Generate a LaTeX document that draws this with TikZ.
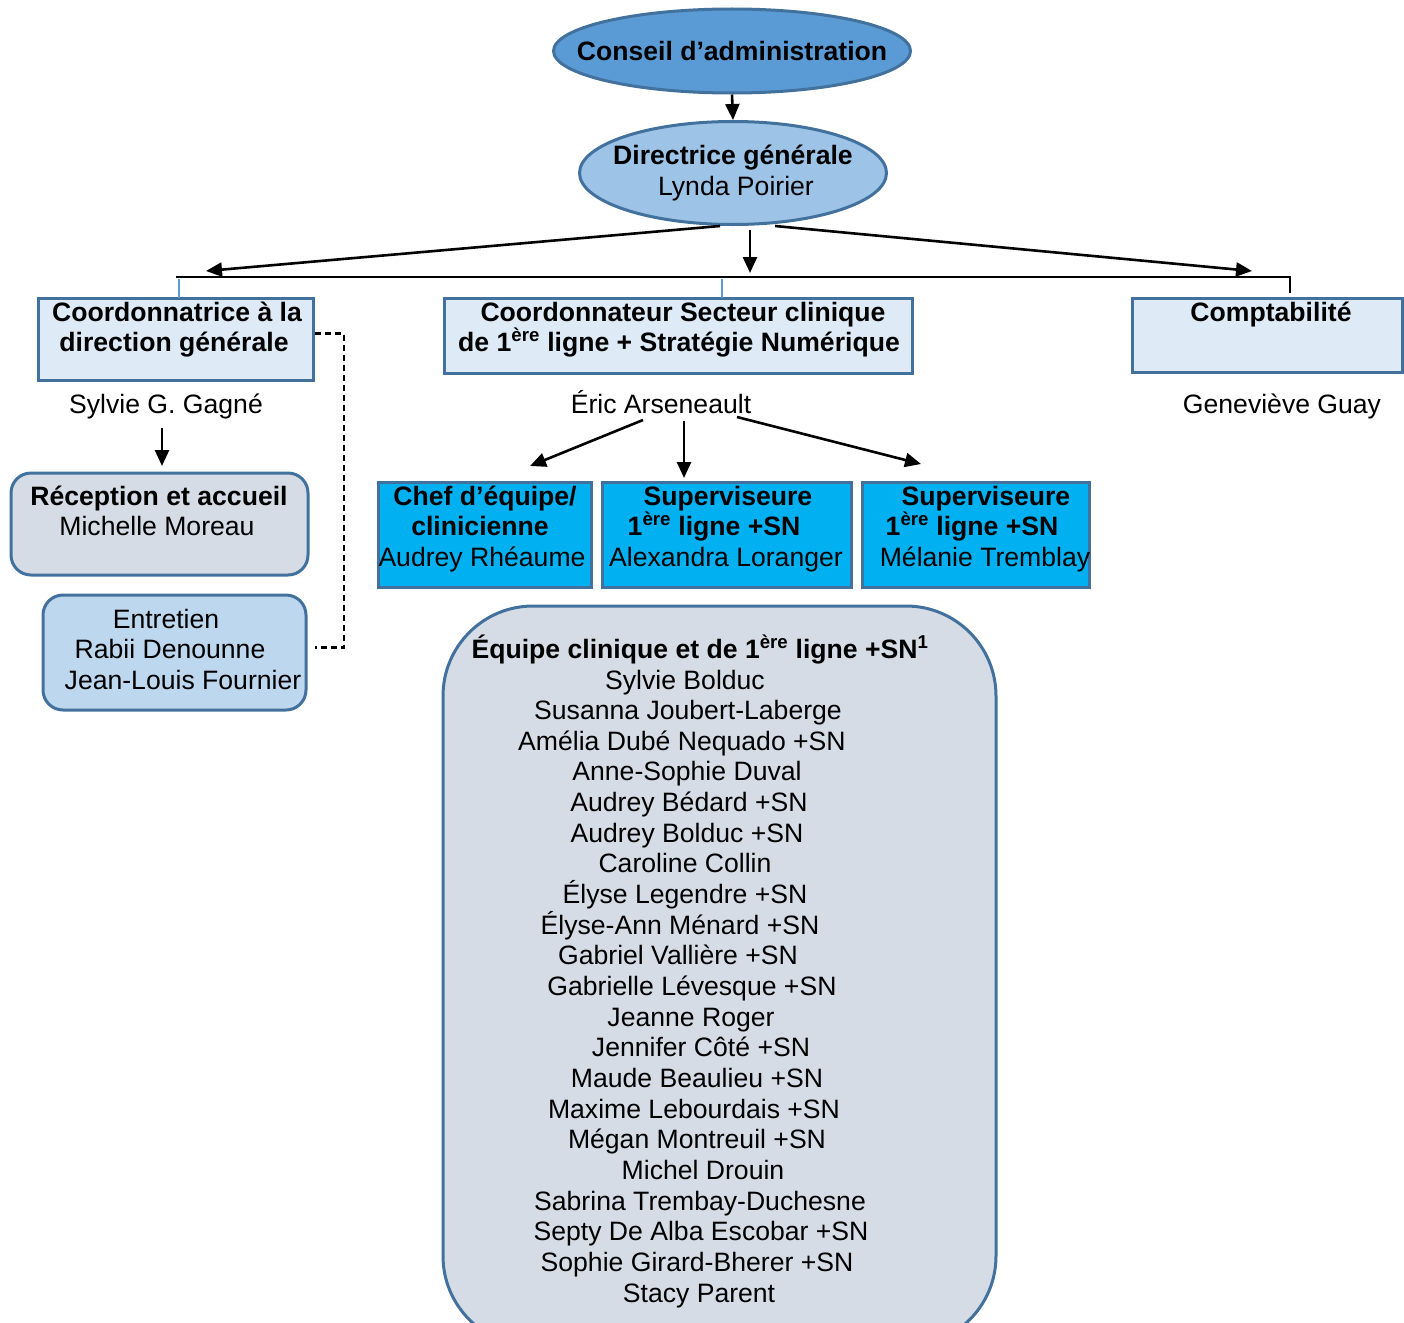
\documentclass[tikz,border=0pt]{standalone}
\usepackage{fontspec}
\setmainfont{Liberation Sans}
\usetikzlibrary{shapes.geometric,arrows.meta}
\definecolor{bord}{HTML}{41719C}
\definecolor{cfill}{HTML}{5B9BD5}
\definecolor{dfill}{HTML}{9DC3E6}
\definecolor{lfill}{HTML}{DEEBF7}
\definecolor{gfill}{HTML}{D6DCE5}
\definecolor{efill}{HTML}{BDD7EE}
\definecolor{cyanf}{HTML}{00B0F0}
\definecolor{tick}{HTML}{5B9BD5}
\begin{document}
\begin{tikzpicture}[x=1pt,y=-1pt,
  box/.style={draw=bord, line width=3pt, inner sep=0pt, outer sep=0pt, anchor=north west},
  ell/.style={ellipse, draw=bord, line width=3pt, inner sep=0pt},
  txt/.style={font=\fontsize{26.6pt}{30.65pt}\selectfont, inner sep=0pt, anchor=base},
  btxt/.style={txt, font=\fontsize{26.6pt}{30.65pt}\selectfont\bfseries},
  arr/.style={line width=2.6pt, -{Triangle[length=16pt,width=14pt]}},
  dsh/.style={line width=2.2pt, dash pattern=on 6pt off 4pt}]
\useasboundingbox (0,0) rectangle (1404,1322);

% ellipses
\node[ell, fill=cfill, minimum width=357pt, minimum height=84pt] (conseil) at (732,51) {};
\node[btxt] (conseilt) at (732,60) {Conseil d’administration};
\node[ell, fill=dfill, minimum width=307pt, minimum height=103pt] (dir) at (733,173) {};
\node[btxt] (dirt1) at (733,164) {Directrice générale};
\node[txt] (dirt2) at (736,195) {Lynda Poirier};
\draw[arr] (conseil.south) -- (dir.north);

% top level boxes
\node[box, fill=lfill, minimum width=275pt, minimum height=82pt] (cdg) at (38,298) {};
\node[btxt] (cdgt1) at (177,321) {Coordonnatrice à la};
\node[btxt] (cdgt2) at (174,351) {direction générale};
\node[box, fill=lfill, minimum width=468pt, minimum height=75pt] (csc) at (444,298) {};
\node[btxt] (csct1) at (683,321) {Coordonnateur Secteur clinique};
\node[btxt] (csct2) at (679,351) {de 1\textsuperscript{ère} ligne + Stratégie Numérique};
\node[box, fill=lfill, minimum width=270pt, minimum height=74pt] (cpt) at (1132,298) {};
\node[btxt] (cptt) at (1271,321) {Comptabilité};

% bar and connectors from directrice
\coordinate (barL) at (176,277);
\coordinate (barR) at (1290,277);
\coordinate (barRe) at (1290,293);
\coordinate (s1) at (720,226);
\coordinate (s2) at (750,230);
\coordinate (s3) at (775,226);
\coordinate (e1) at (206,271);
\coordinate (e2) at (750,273);
\coordinate (e3) at (1252,271);
\draw[line width=2.6pt] (barL) -- (barR) -- (barRe);
\draw[arr] (s1) -- (e1);
\draw[arr] (s2) -- (e2);
\draw[arr] (s3) -- (e3);
\coordinate (t1a) at (179,279);
\coordinate (t2a) at (722,279);
\draw[tick, line width=1.5pt] (t1a) -- (t1a |- cdg.north);
\draw[tick, line width=1.5pt] (t2a) -- (t2a |- csc.north);

% names under boxes
\node[txt] (sylvie) at (166,413) {Sylvie G. Gagné};
\node[txt] (eric) at (661,413) {Éric Arseneault};
\node[txt] (gen) at (1282,413) {Geneviève Guay};

% left column
\node[box, fill=gfill, rounded corners=20pt, minimum width=297pt, minimum height=102pt] (rec) at (11,473) {};
\node[btxt] (rect1) at (159,505) {Réception et accueil};
\node[txt] (rect2) at (157,535) {Michelle Moreau};
\node[box, fill=efill, rounded corners=20pt, minimum width=263pt, minimum height=115pt] (ent) at (43,595) {};
\node[txt] (entt1) at (166,628) {Entretien};
\node[txt] (entt2) at (170,658) {Rabii Denounne};
\node[txt] (entt3) at (183,689) {Jean-Louis Fournier};
\coordinate (sa) at (162,428);
\coordinate (sb) at (162,466);
\draw[arr] (sa) -- (sb);
\draw[dsh] ([xshift=2pt,yshift=5.5pt]cdg.east) -| ([xshift=38pt,yshift=5pt]ent.east) -- ([xshift=9pt,yshift=5pt]ent.east);

% cyan boxes
\node[box, fill=cyanf, minimum width=213pt, minimum height=105pt] (b1) at (378,482) {};
\node[box, fill=cyanf, minimum width=249pt, minimum height=105pt] (b2) at (602,482) {};
\node[box, fill=cyanf, minimum width=227pt, minimum height=105pt] (b3) at (862,482) {};
\node[btxt] (b1t1) at (485,505) {Chef d’équipe/};
\node[btxt] (b1t2) at (480,535) {clinicienne};
\node[txt] (b1t3) at (482,566) {Audrey Rhéaume};
\node[btxt] (b2t1) at (728,505) {Superviseure};
\node[btxt] (b2t2) at (714,535) {1\textsuperscript{ère} ligne +SN};
\node[txt] (b2t3) at (726,566) {Alexandra Loranger};
\node[btxt] (b3t1) at (986,505) {Superviseure};
\node[btxt] (b3t2) at (972,535) {1\textsuperscript{ère} ligne +SN};
\node[txt] (b3t3) at (985,566) {Mélanie Tremblay};
\coordinate (ea) at (643,420);
\coordinate (eb) at (684,421);
\coordinate (ec) at (737,417);
\coordinate (fa) at (530,466);
\coordinate (fb) at (684,478);
\coordinate (fc) at (921,464);
\draw[arr] (ea) -- (fa);
\draw[arr] (eb) -- (fb);
\draw[arr] (ec) -- (fc);

% team box
\node[box, fill=gfill, rounded corners=90pt, minimum width=553pt, minimum height=740pt] (team) at (443,606) {};
\node[btxt] (teamt) at (700,658) {Équipe clinique et de 1\textsuperscript{ère} ligne +SN\textsuperscript{1}};
\foreach \i/\xx/\nm in {0/685/Sylvie Bolduc, 1/688/Susanna Joubert-Laberge, 2/682/Amélia Dubé Nequado +SN,
  3/687/Anne-Sophie Duval, 4/689/Audrey Bédard +SN, 5/687/Audrey Bolduc +SN, 6/685/Caroline Collin,
  7/685/Élyse Legendre +SN, 8/680/Élyse-Ann Ménard +SN, 9/678/Gabriel Vallière +SN,
  10/692/Gabrielle Lévesque +SN, 11/691/Jeanne Roger, 12/701/Jennifer Côté +SN,
  13/697/Maude Beaulieu +SN, 14/694/Maxime Lebourdais +SN, 15/697/Mégan Montreuil +SN,
  16/703/Michel Drouin, 17/700/Sabrina Trembay-Duchesne, 18/701/Septy De Alba Escobar +SN,
  19/697/Sophie Girard-Bherer +SN, 20/699/Stacy Parent}{
  \node[txt] (m\i) at (\xx,689+30.65*\i) {\nm};
}
\end{tikzpicture}
\end{document}
